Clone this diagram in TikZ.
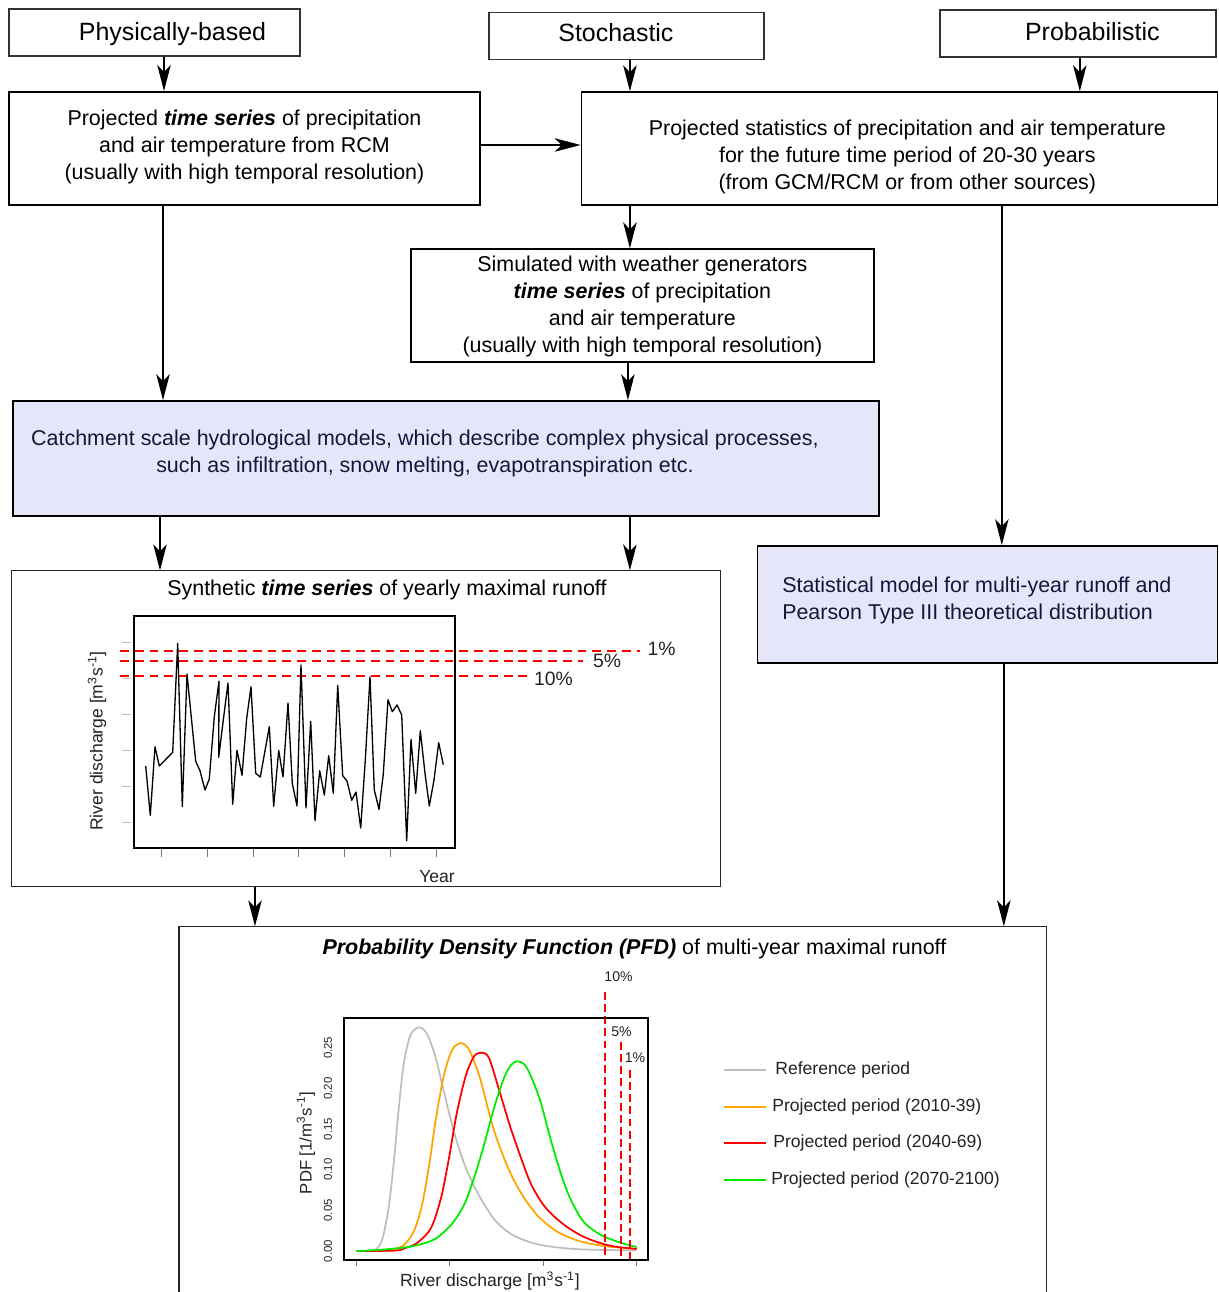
\documentclass[tikz,border=0pt]{standalone}
\usepackage{fontspec}
\setmainfont{Liberation Sans}
\usepackage{tikz}
\usetikzlibrary{arrows.meta}
\usetikzlibrary{positioning}
\definecolor{lavbox}{RGB}{230,230,250}
\definecolor{navytext}{RGB}{22,22,58}
\definecolor{inktext}{RGB}{34,34,34}
\definecolor{refgray}{RGB}{190,190,190}
\definecolor{proorange}{RGB}{255,165,0}
\definecolor{prored}{RGB}{255,0,0}
\definecolor{progreen}{RGB}{0,235,0}
\newcommand{\liftbox}[2]{\raisebox{#1}[\height][\depth]{#2}}
\newcommand{\ts}{\textbf{\textit{time series}}}
\tikzset{
    method/.style={
           rectangle,
           draw=black!80, line width=0.8pt,
           minimum height=0.94cm,
           font=\fontsize{14.2}{17}\selectfont,
           },
    proc/.style={
           rectangle,
           draw=black, line width=0.85pt,
           minimum height=2.26cm,
           inner sep=0pt,
           font=\fontsize{12.2}{15.3}\selectfont,
           },
    model/.style={proc, fill=lavbox, text=navytext, minimum height=2.3cm},
    panel/.style={rectangle, draw=black!85, line width=0.6pt},
    flow/.style={->, line width=0.8pt},
    limit/.style={prored, line width=0.8pt, dash pattern=on 5pt off 3.4pt},
    vlimit/.style={prored, line width=1.15pt, dash pattern=on 4.5pt off 2.4pt},
    pct/.style={text=inktext, inner sep=1pt, font=\fontsize{11}{13}\selectfont},
    spct/.style={text=inktext, inner sep=1pt, font=\fontsize{8}{9}\selectfont},
    axlab/.style={text=inktext, inner sep=1pt, font=\fontsize{10}{12}\selectfont},
    ytick/.style={text=inktext, inner sep=0pt, rotate=90, font=\fontsize{6.5}{7}\selectfont},
    curve/.style={line width=1pt, line join=round},
    leg/.style={text=inktext, anchor=west, inner sep=0pt, font=\fontsize{10}{12}\selectfont},
}

\begin{document}
\begin{tikzpicture}[x=0.02cm, y=-0.02cm, >={Stealth[length=0.52cm, width=0.27cm, inset=0.14cm]}]
 \useasboundingbox (0,0) rectangle (1218,1292);

 % the three approaches on top
 \node[method, minimum width=5.82cm] (PHYS) at (154.5,32.5) {\liftbox{-0.04cm}{\hspace*{0.72cm}Physically-based}};
 \node[method, minimum width=5.5cm,
  right of=PHYS, node distance=9.44cm, yshift=-0.07cm, anchor=center] (STOCH) {\liftbox{0.06cm}{Stochastic\hspace*{0.42cm}}};
 \node[method, minimum width=5.52cm,
  right of=STOCH, node distance=9.03cm, yshift=0.05cm, anchor=center] (PROB) {\liftbox{0.04cm}{\hspace*{0.58cm}Probabilistic}};

 % climate input
 \node[proc, minimum width=9.42cm, line width=1.1pt,
  below of=PHYS, node distance=2.32cm, xshift=1.8cm, anchor=center] (RCM)
 {\liftbox{0.03cm}{\begin{tabular}{@{}c@{}}
  Projected \ts{} of precipitation\\
  and air temperature from RCM\\
  (usually with high temporal resolution)
 \end{tabular}}};

 \node[proc, minimum width=12.72cm,
  right of=RCM, node distance=13.1cm, anchor=center] (STAT)
 {\liftbox{-0.17cm}{\hspace*{0.32cm}\begin{tabular}{@{}c@{}}
  Projected statistics of precipitation and air temperature\\
  for the future time period of 20-30 years\\
  (from GCM/RCM or from other sources)
 \end{tabular}}};

 \node[proc, minimum width=9.26cm, line width=0.75pt,
  below of=STAT, node distance=3.14cm, xshift=-5.14cm, anchor=center] (WGEN)
 {\liftbox{-0.02cm}{\begin{tabular}{@{}c@{}}
  Simulated with weather generators\\
  \ts{} of precipitation\\
  and air temperature\\
  (usually with high temporal resolution)
 \end{tabular}}};

 % models
 \node[model, minimum width=17.32cm,
  below of=WGEN, node distance=3.06cm, xshift=-3.93cm, anchor=center] (HYDRO)
 {\liftbox{0.10cm}{\begin{tabular}{@{}c@{}}
  Catchment scale hydrological models, which describe complex physical processes,\\
  such as infiltration, snow melting, evapotranspiration etc.
 \end{tabular}\hspace*{0.84cm}}};

 \node[model, minimum width=9.2cm, minimum height=2.34cm,
  below of=STAT, node distance=9.12cm, xshift=1.76cm, anchor=center] (PEARSON)
 {\liftbox{0.08cm}{\begin{tabular}{@{}l@{}}
  Statistical model for multi-year runoff and\\
  Pearson Type III theoretical distribution
 \end{tabular}\hspace*{0.42cm}}};

 % result panels
 \node[panel, minimum width=14.2cm, minimum height=6.32cm,
  below of=HYDRO, node distance=5.41cm, xshift=-1.6cm, anchor=center] (SYNTH) {};
 \node[panel, minimum width=17.36cm, minimum height=7.86cm,
  below of=SYNTH, node distance=7.89cm, xshift=4.94cm, anchor=center] (PDFBOX) {};

 \node[font=\fontsize{12.2}{15}\selectfont] (SYNTHT) at ([xshift=0.42cm, yshift=-0.40cm]SYNTH.north)
  {Synthetic \ts{} of yearly maximal runoff};
 \node[font=\fontsize{12.2}{15}\selectfont] (PDFT) at ([xshift=0.43cm, yshift=-0.46cm]PDFBOX.north)
  {\textbf{\textit{Probability Density Function (PFD)}} of multi-year maximal runoff};

 % arrows between the boxes
 \path[flow]
  ([xshift=0.19cm]PHYS.south)     edge ([xshift=0.19cm]PHYS.south |- RCM.north)
  ([xshift=0.07cm]STOCH.south)    edge ([xshift=0.07cm]STOCH.south |- STAT.north)
  ([xshift=0.04cm]PROB.south)     edge ([xshift=0.04cm]PROB.south |- STAT.north)
  ([yshift=0.07cm]RCM.east)       edge ([yshift=0.07cm]RCM.east -| STAT.west)
  ([xshift=-1.63cm]RCM.south)     edge ([xshift=-1.63cm]RCM.south |- HYDRO.north)
  ([xshift=-5.39cm]STAT.south)    edge ([xshift=-5.39cm]STAT.south |- WGEN.north)
  ([xshift=-0.29cm]WGEN.south)    edge ([xshift=-0.29cm]WGEN.south |- HYDRO.north)
  ([xshift=2.05cm]STAT.south)     edge ([xshift=2.05cm]STAT.south |- PEARSON.north)
  ([xshift=-5.72cm]HYDRO.south)   edge ([xshift=-5.72cm]HYDRO.south |- SYNTH.north)
  ([xshift=3.68cm]HYDRO.south)    edge ([xshift=3.68cm]HYDRO.south |- SYNTH.north)
  ([xshift=-2.22cm]SYNTH.south)   edge ([xshift=-2.22cm]SYNTH.south |- PDFBOX.north)
  ([xshift=0.33cm]PEARSON.south)  edge ([xshift=0.33cm]PEARSON.south |- PDFBOX.north);

 % yearly maximal runoff plot
 \foreach \i in {0,...,6}
  \draw[black!55, line width=0.4pt] ({161.7+45.7*\i},849) -- ++(0,8);
 \foreach \ty in {642,678,714,750,786,822}
  \draw[black!25, line width=0.4pt] (122,\ty) -- (131,\ty);
 \draw[limit] (120,651) -- (640,651);
 \draw[limit] (120,661) -- (583,661);
 \draw[limit] (120,676) -- (528,676);
 \draw[line width=0.75pt, line join=round] plot coordinates {
  (145.7,766) (150.3,815.3) (155,746.7) (159.3,766) (172.7,752.3) (177.7,643.3)
  (182.3,806.7) (187,674) (195.7,761.3) (200,770.7) (205,790) (209.3,779)
  (214.3,716.7) (219,681) (218.7,757.3) (223.3,720) (228,683) (232.7,804.3)
  (237,750.3) (242,775.3) (246.7,718.3) (251,686.7) (255.7,773.3) (260.3,777)
  (269.3,726.7) (273.7,806.3) (278.7,750.3) (283,777) (288,703) (292.3,783.3)
  (297,806) (301,665) (306,808) (310.7,721.3) (315,820.7) (319.7,770.7)
  (324.3,795) (328.7,755.7) (333.3,793.3) (337.7,685.3) (342.7,775.7) (347,781)
  (351.7,800.3) (356,792) (360.7,828) (365.3,760) (370,676.7) (374.3,790)
  (379,809.3) (383.3,774) (388,699.7) (392.3,711.7) (397,705) (401.7,715)
  (406.7,840.7) (411,739.3) (415.7,793.3) (420.3,730.7) (425,773.3) (429.3,806)
  (434,780) (438.7,742.7) (443.3,764.7)};
 \draw[line width=1.1pt] (134,616) rectangle (455,848);
 \node[pct] (TS1) at (661.5,649) {1\%};
 \node[pct] (TS5) at (607,661) {5\%};
 \node[pct] (TS10) at (553.5,679) {10\%};
 \node[axlab, rotate=90] (TSY) at (97,741) {River discharge [m\textsuperscript{3}s\textsuperscript{-1}]};
 \node[axlab] (TSX) at (437,877) {Year};

 % probability density plot
 \foreach \i in {0,...,3}
  \draw[black!55, line width=0.4pt] ({356.7+93.1*\i},1261) -- ++(0,5);
 \foreach \v/\lab in {0/0.00,1/0.05,2/0.10,3/0.15,4/0.20,5/0.25}
  \node[ytick] (yt\v) at (328,{1251-40.65*\v}) {\lab};
 \draw[curve, refgray] plot[smooth] coordinates {
  (356.7,1251) (372,1250.6) (378,1247.5) (383,1237) (389,1205) (394,1160)
  (399,1106) (404,1062) (410.5,1035) (419,1027.3) (427,1034) (435.5,1057)
  (443,1088) (454,1132) (464,1163) (476,1190) (494,1219) (511,1234)
  (531,1242.5) (550,1246.5) (580,1249.3) (636,1250.5)};
 \draw[curve, proorange] plot[smooth] coordinates {
  (356.7,1251) (385,1250.6) (395,1249) (404,1245) (414,1231) (422,1205)
  (429,1166) (436,1118) (444,1075) (452,1050) (460.7,1043) (468,1048)
  (473.3,1059.7) (480,1078) (493.3,1128) (506.7,1164.7) (520,1191.3)
  (536.7,1214.7) (556.7,1231.3) (580,1241.3) (606.7,1246.3) (636.7,1248.8)};
 \draw[curve, prored] plot[smooth] coordinates {
  (356.7,1251) (395,1250.6) (404,1248.5) (417,1243) (431,1228) (441,1198)
  (449,1158) (457,1112) (466,1075) (474,1056.5) (481.3,1052.7) (489,1058)
  (500,1093) (510,1126) (520,1155) (531,1184) (545,1207)
  (563,1224) (580,1235) (597,1242) (613.3,1246.3) (636.7,1249)};
 \draw[curve, progreen] plot[smooth] coordinates {
  (356.7,1251) (380,1249.8) (411,1246.5) (434,1239.5) (451,1225) (464,1205)
  (474,1178) (484,1145) (494,1108) (504,1078) (511,1065) (517.3,1061.3)
  (524,1064) (530,1074) (540,1100) (550,1137) (560,1171) (570,1198)
  (583,1221) (600,1234.5) (620,1242.5) (636.7,1247)};
 \draw[vlimit] (605,992) -- (605,1260);
 \draw[vlimit] (621,1042) -- (621,1260);
 \draw[vlimit] (630,1070) -- (630,1260);
 \draw[line width=1.1pt] (344,1018) rectangle (648,1260);
 \node[spct] (PD10) at (618.5,977) {10\%};
 \node[spct] (PD5) at (621.5,1031.5) {5\%};
 \node[spct] (PD1) at (635,1057.5) {1\%};
 \node[axlab] (PDX) at (490,1281) {River discharge [m\textsuperscript{3}s\textsuperscript{-1}]};
 \node[axlab, rotate=90, font=\fontsize{9.5}{11}\selectfont] (PDY) at (306,1143) {PDF [1/m\textsuperscript{3}s\textsuperscript{-1}]};

 % legend
 \node[leg] (LREF) at (775,1070) {Reference period};
 \node[leg] (L2010) at (772,1107) {Projected period (2010-39)};
 \node[leg] (L2040) at (773,1143) {Projected period (2040-69)};
 \node[leg] (L2070) at (771,1180) {Projected period (2070-2100)};
 \draw[curve, refgray] (724,1070) -- (766,1070);
 \draw[curve, proorange] (724,1107) -- (766,1107);
 \draw[curve, prored] (724,1143) -- (766,1143);
 \draw[curve, progreen] (724,1180) -- (766,1180);

\end{tikzpicture}
\end{document}
